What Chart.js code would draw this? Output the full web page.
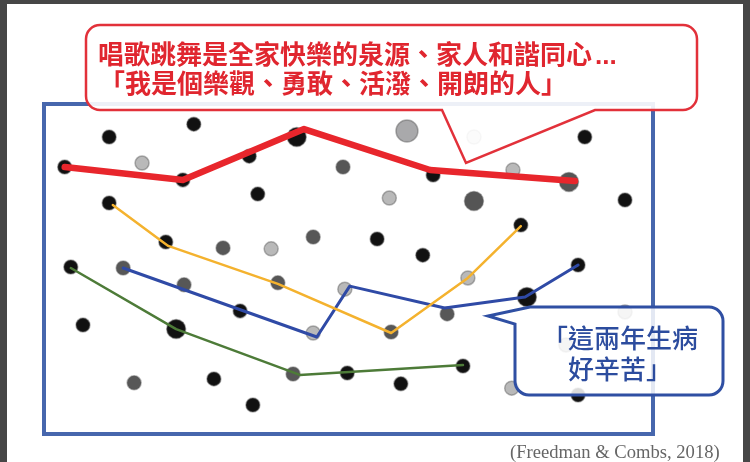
<!DOCTYPE html>
<html>
<head>
<meta charset="utf-8">
<script src="https://cdn.jsdelivr.net/npm/chart.js@4/dist/chart.umd.min.js"></script>
<style>
  html, body { margin: 0; padding: 0; background: #464646; }
  #sheet { position: absolute; left: 7px; top: 4px; width: 736px; height: 458px; background: #fff; }
  #chart { position: absolute; left: 0; top: 0; }
</style>
</head>
<body>
<div id="sheet"></div>
<canvas id="chart" width="750" height="462"></canvas>
<script>
// scattered "events" of a life, x = time (0-100), y = how it feels (0-100)
const blackDots = [[10.7,90.0],[24.6,93.9],[3.4,80.9],[22.8,77.0],[33.7,84.2],[10.7,70.0],[35.1,72.7],
  [20.0,58.2],[4.4,50.6],[88.8,90.0],[63.9,78.5],[95.4,70.9],[54.7,59.1],[62.2,54.2],[78.3,63.3],
  [87.7,51.2],[32.2,37.3],[6.4,33.0],[49.8,18.5],[27.9,16.7],[34.3,8.8],[68.8,20.6],[58.6,15.2],[87.7,11.8]];
const blackBigDots = [[41.5,90.0],[21.7,31.8],[79.3,41.5]];
const greyDots = [[49.1,80.9],[29.4,56.4],[44.2,59.7],[13.0,50.3],[23.0,45.2],[38.4,45.8],
  [40.9,18.2],[14.8,15.5],[66.2,36.4],[57.0,30.9]];
const greyBigDots = [[86.2,76.4],[70.6,70.6]];
const lightDots = [[16.1,82.1],[37.3,56.1],[77.0,80.0],[56.7,71.5],[44.2,30.6],[49.4,43.9],
  [69.6,47.3],[76.8,13.9],[95.4,37.0],[85.7,27.0]];
const lightBigDots = [[59.6,91.8]];
const paleDots = [[70.6,90.0]];

// story lines drawn through some of the events
const redX = [3.4, 22.8, 42.7, 63.4, 87.2];
const redY = [80.9, 77.0, 92.4, 80.0, 76.7];
const yellowX = [11.3, 20.4, 38.4, 57.0, 69.6, 78.3];
const yellowY = [69.4, 57.0, 45.5, 30.6, 47.3, 63.0];
const blueX = [13.0, 44.8, 50.2, 65.8, 79.0, 87.7];
const blueY = [50.3, 29.4, 44.8, 38.2, 41.5, 51.2];
const greenX = [4.4, 21.7, 42.0, 68.8];
const greenY = [50.3, 31.8, 17.9, 20.9];

const redText = ["唱歌跳舞是全家快樂的泉源、家人和諧同心", "「我是個樂觀、勇敢、活潑、開朗的人」"];
const blueText = ["「這兩年生病", "好辛苦」"];
const citation = "(Freedman & Combs, 2018)";

const pts = arr => arr.map(p => ({ x: p[0], y: p[1] }));
const zip = (xs, ys) => xs.map((x, i) => ({ x: x, y: ys[i] }));

function dots(arr, color, r) {
  return {
    type: "scatter", data: pts(arr), order: 10,
    backgroundColor: color, borderColor: "rgba(90,90,90,0.45)", borderWidth: 1.5,
    pointRadius: r
  };
}
function story(xs, ys, color, w) {
  return {
    type: "line", data: zip(xs, ys), order: 1,
    borderColor: color, borderWidth: w, pointRadius: 0, tension: 0,
    borderJoinStyle: "round", borderCapStyle: "round", fill: false
  };
}

function roundCorner(ctx, x, y, x2, y2, r) { ctx.arcTo(x, y, x2, y2, r); }

const decor = {
  id: "decor",
  afterDatasetsDraw(chart) {
    const ctx = chart.ctx, a = chart.chartArea;
    ctx.save();
    // frame of the plot
    ctx.strokeStyle = "#4767ad";
    ctx.lineWidth = 4;
    ctx.strokeRect(a.left, a.top, a.right - a.left, a.bottom - a.top);

    // red speech bubble
    let L = 86, T = 25, R = 697, B = 110, r = 14;
    ctx.beginPath();
    ctx.moveTo(L + r, T);
    ctx.lineTo(R - r, T); roundCorner(ctx, R, T, R, T + r, r);
    ctx.lineTo(R, B - r); roundCorner(ctx, R, B, R - r, B, r);
    ctx.lineTo(595, B); ctx.lineTo(466, 163); ctx.lineTo(442, B);
    ctx.lineTo(L + r, B); roundCorner(ctx, L, B, L, B - r, r);
    ctx.lineTo(L, T + r); roundCorner(ctx, L, T, L + r, T, r);
    ctx.closePath();
    ctx.fillStyle = "rgba(255,255,255,0.9)";
    ctx.fill();
    ctx.strokeStyle = "#e2313a";
    ctx.lineWidth = 2.5;
    ctx.stroke();
    ctx.fillStyle = "#e0262f";
    ctx.font = 'bold 26px "Noto Sans CJK TC"';
    ctx.textAlign = "left";
    ctx.textBaseline = "middle";
    ctx.fillText(redText[0], 98, 54);
    const w0 = ctx.measureText(redText[0]).width;
    ctx.fillText(redText[1], 99, 83);
    ctx.font = 'bold 26px "Liberation Sans"';
    ctx.textBaseline = "alphabetic";
    ctx.fillText("...", 98 + w0 + 3, 64);

    // blue speech bubble
    L = 515; T = 307; R = 723; B = 395; r = 14;
    ctx.beginPath();
    ctx.moveTo(530, T);
    ctx.lineTo(R - r, T); roundCorner(ctx, R, T, R, T + r, r);
    ctx.lineTo(R, B - r); roundCorner(ctx, R, B, R - r, B, r);
    ctx.lineTo(L + r, B); roundCorner(ctx, L, B, L, B - r, r);
    ctx.lineTo(L, 324); ctx.lineTo(488, 316);
    ctx.closePath();
    ctx.fillStyle = "rgba(255,255,255,0.85)";
    ctx.fill();
    ctx.strokeStyle = "#2f4fa3";
    ctx.lineWidth = 3;
    ctx.stroke();
    ctx.fillStyle = "#2c4c9e";
    ctx.font = '500 26px "Noto Sans CJK TC"';
    ctx.textAlign = "center";
    ctx.textBaseline = "middle";
    ctx.fillText(blueText[0], 620, 338);
    ctx.fillText(blueText[1], 620, 369);

    // source
    ctx.fillStyle = "#666";
    ctx.font = '18.6px "Liberation Serif"';
    ctx.textAlign = "left";
    ctx.fillText(citation, 510, 453);
    ctx.restore();
  }
};

function draw() {
  new Chart(document.getElementById("chart"), {
    data: {
      datasets: [
        story(redX, redY, "#e8262c", 6.5),
        story(yellowX, yellowY, "#f4b22e", 2.5),
        story(blueX, blueY, "#2f4aa6", 3),
        story(greenX, greenY, "#4d7b38", 2.5),
        dots(blackDots, "#111", 7),
        dots(blackBigDots, "#111", 9.5),
        dots(greyDots, "#575757", 7),
        dots(greyBigDots, "#555", 9.5),
        dots(lightDots, "#b9b9b9", 7),
        dots(lightBigDots, "#a9a9ab", 11),
        dots(paleDots, "#d6d6d6", 7)
      ]
    },
    options: {
      responsive: false,
      animation: false,
      layout: { padding: { left: 44, top: 104, right: 97, bottom: 28 } },
      scales: {
        x: { type: "linear", min: 0, max: 100, display: false },
        y: { type: "linear", min: 0, max: 100, display: false }
      },
      plugins: { legend: { display: false }, tooltip: { enabled: false } }
    },
    plugins: [decor]
  });
}

Promise.all([
  document.fonts.load('bold 26px "Noto Sans CJK TC"'),
  document.fonts.load('bold 26px "Liberation Sans"'),
  document.fonts.load('18px "Liberation Serif"')
]).then(draw, draw);
</script>
</body>
</html>
